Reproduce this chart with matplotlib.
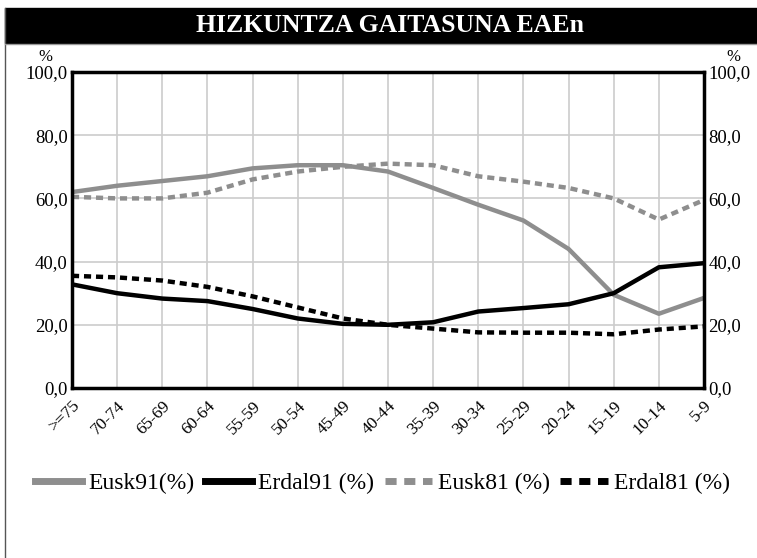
import matplotlib.pyplot as plt
from matplotlib.lines import Line2D
from matplotlib.patches import Rectangle
import numpy as np

plt.rcParams['font.family'] = ['Liberation Serif', 'DejaVu Serif']

# Age groups and percentages
ages = [">=75", "70-74", "65-69", "60-64", "55-59", "50-54", "45-49", "40-44",
        "35-39", "30-34", "25-29", "20-24", "15-19", "10-14", "5-9"]
eusk91 = [62, 64, 65.5, 67, 69.5, 70.5, 70.5, 68.5, 63.3, 58, 53, 44, 29.5, 23.5, 28.5]
erdal91 = [32.8, 30, 28.3, 27.5, 25, 22, 20.3, 20, 20.8, 24.2, 25.3, 26.5, 30, 38.2, 39.5]
eusk81 = [60.5, 60, 60, 61.8, 66, 68.5, 70, 71, 70.5, 67, 65.3, 63.3, 60, 53.3, 59.5]
erdal81 = [35.5, 35, 34, 32, 29, 25.5, 22, 20, 18.8, 17.6, 17.5, 17.5, 17, 18.5, 19.5]

fig = plt.figure(figsize=(7.57, 5.58), dpi=100)
ax = fig.add_axes([72 / 757, 1 - 388 / 558, 632 / 757, 316 / 558])

x = np.arange(len(ages))
ax.plot(x, eusk91, color='#8e8e8e', lw=3.2, solid_capstyle='butt')
ax.plot(x, erdal91, color='black', lw=3.2, solid_capstyle='butt')
ax.plot(x, eusk81, color='#8e8e8e', lw=3.2, dashes=(1.6, 1.1))
ax.plot(x, erdal81, color='black', lw=3.2, dashes=(1.6, 1.1))

ax.set_xlim(0, len(ages) - 1)
ax.set_ylim(0, 100)
ax.set_xticks(x)
ax.set_xticklabels(ages, rotation=45, ha='right', rotation_mode='anchor', fontsize=12.5)
yt = [0, 20, 40, 60, 80, 100]
ax.set_yticks(yt)
ax.set_yticklabels([f"{v:.1f}".replace('.', ',') for v in yt], fontsize=13.5)
ax.tick_params(axis='x', length=0, pad=7)
ax.tick_params(axis='y', length=0, labelright=True, pad=3)
ax.grid(True, color='#cccccc', lw=1.2)
ax.set_axisbelow(True)
for s in ax.spines.values():
    s.set_linewidth(2.5)
    s.set_color('black')

fig.text(45 / 757, 1 - 57 / 558, "%", fontsize=12, ha='center', va='center')
fig.text(733 / 757, 1 - 57 / 558, "%", fontsize=12, ha='center', va='center')

# title bar
fig.patches.append(Rectangle((5 / 757, 1 - 43 / 558), 752 / 757, 35 / 558,
                             transform=fig.transFigure, color='black'))
fig.text(0.515, 1 - 25 / 558, "HIZKUNTZA GAITASUNA EAEn", color='white',
         fontsize=18.5, fontweight='bold', ha='center', va='center')
fig.add_artist(Line2D([5 / 757, 5 / 757], [0, 1 - 8 / 558], color='#555555', lw=1,
                      transform=fig.transFigure))
fig.add_artist(Line2D([5 / 757, 1], [1 - 44 / 558, 1 - 44 / 558], color='#999999', lw=1,
                      transform=fig.transFigure))

handles = [
    Line2D([], [], color='#8e8e8e', lw=5),
    Line2D([], [], color='black', lw=5),
    Line2D([], [], color='#8e8e8e', lw=5, dashes=(1.6, 1.1)),
    Line2D([], [], color='black', lw=5, dashes=(1.6, 1.1)),
]
fig.legend(handles, ["Eusk91(%)", "Erdal91 (%)", "Eusk81 (%)", "Erdal81 (%)"],
           loc='center', bbox_to_anchor=(0.505, 1 - 483 / 558), ncol=4, frameon=False,
           fontsize=17, handlelength=2.0, handletextpad=0.25, columnspacing=0.45)

fig.savefig("out.png", dpi=100)
